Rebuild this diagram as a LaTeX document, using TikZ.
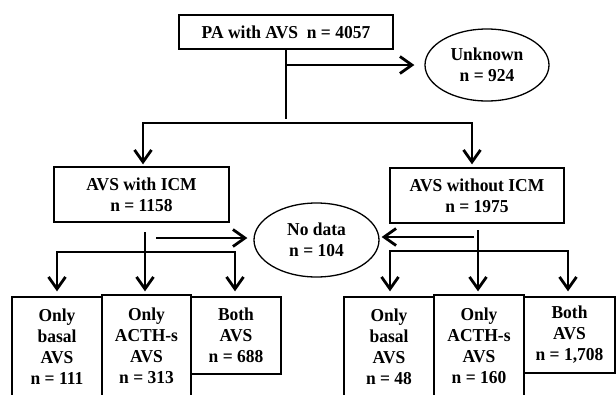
\documentclass[tikz,border=0pt]{standalone}
\usepackage{fontspec}
\setmainfont[FakeStretch=0.96]{Liberation Serif}
\usetikzlibrary{arrows.meta,shapes.geometric}
\tikzset{
  txt/.style={font=\fontsize{18.2}{21}\selectfont\bfseries, align=center, inner sep=0pt},
  box/.style={txt, draw, line width=1.3pt},
  oval/.style={txt, draw, ellipse, line width=1.3pt},
  flow/.style={line width=2.8pt, line join=miter},
  arr/.style={flow, -{Straight Barb[length=12pt,width=17pt]}},
  arrr/.style={flow, {Straight Barb[length=12pt,width=17pt]}-{Straight Barb[length=12pt,width=17pt]}}
}
\begin{document}
\begin{tikzpicture}[x=1pt,y=-1pt]
\useasboundingbox (0,0) rectangle (616,394);
\clip (0,0) rectangle (616,394);
% nodes
\node[box, minimum width=214pt, minimum height=34pt] (top) at (286,32) {PA with AVS\ \ n = 4057};
\node[oval, minimum width=124pt, minimum height=72pt] (unk) at (487,65) {Unknown\\n = 924};
\node[box, minimum width=175pt, minimum height=55pt] (icm) at (141.5,194.5) {AVS with ICM\\n = 1158};
\node[box, minimum width=174pt, minimum height=55pt] (noicm) at (477,195.5) {AVS without ICM\\n = 1975};
\node[oval, minimum width=125pt, minimum height=74pt] (nod) at (316.5,240) {No data\\n = 104};
\node[box, minimum width=90pt, minimum height=100pt] (b1) at (57,347) {Only\\basal\\AVS\\n = 111};
\node[box, minimum width=89pt, minimum height=102pt] (b2) at (146.5,346) {Only\\ACTH-s\\AVS\\n = 313};
\node[box, minimum width=90pt, minimum height=77pt] (b3) at (236,335.5) {Both\\AVS\\n = 688};
\node[box, minimum width=90pt, minimum height=100pt] (rb1) at (389,347) {Only\\basal\\AVS\\n = 48};
\node[box, minimum width=90pt, minimum height=102pt] (rb2) at (479,346) {Only\\ACTH-s\\AVS\\n = 160};
\node[box, minimum width=91pt, minimum height=76pt] (rb3) at (569.5,335) {Both\\AVS\\n = 1,708};
% top connectors
\coordinate (t1) at (286,65);
\coordinate (t2) at (286,119);
\draw[flow] (top.south) -- (t2);
\draw[arr, shorten >=10pt] (t1) -- (unk.west);
\coordinate (hl) at (143,123);
\coordinate (hr) at (472,123);
\draw[arrr, shorten <=2pt, shorten >=3pt] (hl |- icm.north) -- (hl) -- (hr) -- (hr |- noicm.north);
% left lower
\coordinate (lvs) at (145,232);
\draw[arr, shorten >=3pt] (lvs) -- (lvs |- b2.north);
\coordinate (la) at (156,238);
\draw[arr, shorten >=6pt] (la) -- (la -| nod.west);
\coordinate (lh1) at (57,252);
\coordinate (lh2) at (235,252);
\draw[arrr, shorten <=5pt, shorten >=5pt] (lh1 |- b1.north) -- (lh1) -- (lh2) -- (lh2 |- b3.north);
% right lower
\coordinate (rvs) at (478,230);
\draw[arr, shorten >=3pt] (rvs) -- (rvs |- rb2.north);
\coordinate (ra) at (474,237);
\draw[arr, shorten >=2pt] (ra) -- (ra -| nod.east);
\coordinate (rh1) at (390,251);
\coordinate (rh2) at (568,251);
\draw[arrr, shorten <=5pt, shorten >=5pt] (rh1 |- rb1.north) -- (rh1) -- (rh2) -- (rh2 |- rb3.north);
\end{tikzpicture}
\end{document}
